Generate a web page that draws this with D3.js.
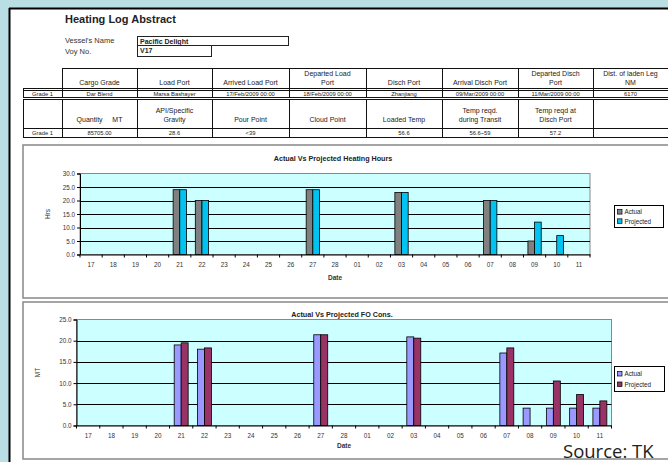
<!DOCTYPE html>
<html><head><meta charset="utf-8">
<script src="https://cdn.jsdelivr.net/npm/d3@7"></script>
<style>
body{margin:0;background:#b9dfe4;overflow:hidden;}
svg{display:block;font-family:Arial,"Liberation Sans",sans-serif;}
</style>
</head><body>
<svg id="c" width="668" height="462"></svg>
<script>
// Voyage dates (Feb 17 – Mar 11)
const dates = ["17","18","19","20","21","22","23","24","25","26","27","28","01","02","03","04","05","06","07","08","09","10","11"];
const seriesNames = ["Actual","Projected"];

// Heating hours per day
const heatActual    = [null,null,null,null,24,20,null,null,null,null,24,null,null,null,23,null,null,null,20,null,5,null,null];
const heatProjected = [null,null,null,null,24,20,null,null,null,null,24,null,null,null,23,null,null,null,20,null,12,7,null];
const hoursTicks = [0,5,10,15,20,25,30];

// Fuel oil consumption per day (MT)
const foActual    = [null,null,null,null,19.0,18.0,null,null,null,null,21.4,null,null,null,20.9,null,null,null,17.1,4.1,4.1,4.1,4.1];
const foProjected = [null,null,null,null,19.5,18.3,null,null,null,null,21.4,null,null,null,20.6,null,null,null,18.3,null,10.5,7.3,5.8];
const foTicks = [0,5,10,15,20,25];

// Voyage particulars table
const headerRow1 = ["", "Cargo Grade", "Load Port", "Arrived Load Port", "Departed Load|Port", "Disch Port", "Arrival Disch Port", "Departed Disch|Port", "Dist. of laden Leg|NM"];
const dataRow1   = ["Grade 1", "Dar Blend", "Marsa Bashayer", "17/Feb/2009 00:00", "18/Feb/2009 00:00", "Zhanjiang", "09/Mar/2009 00:00", "11/Mar/2009 00:00", "6170"];
const headerRow2 = ["", "Quantity     MT", "API/Specific|Gravity", "Pour Point", "Cloud Point", "Loaded Temp", "Temp reqd.|during Transit", "Temp reqd at|Disch Port", ""];
const dataRow2   = ["Grade 1", "85705.00", "28.6", "<39", "", "56.6", "56.6~59", "57.2", ""];

const svg = d3.select("#c");

// sheet
svg.append("rect").attr("x",9).attr("y",8).attr("width",700).attr("height",470).attr("fill","#fff");
svg.append("line").attr("x1",9).attr("x2",668).attr("y1",8.5).attr("y2",8.5).attr("stroke","#000").attr("stroke-width",2);
svg.append("line").attr("x1",9.5).attr("x2",9.5).attr("y1",8).attr("y2",462).attr("stroke","#000").attr("stroke-width",2);

svg.append("text").attr("x",65).attr("y",23).attr("font-size",11).attr("font-weight","bold").attr("fill","#222").text("Heating Log Abstract");
svg.append("text").attr("x",65).attr("y",43).attr("font-size",7.5).attr("fill","#333").text("Vessel's Name");
svg.append("text").attr("x",65).attr("y",54).attr("font-size",7.5).attr("fill","#333").text("Voy No.");
svg.append("rect").attr("x",137.5).attr("y",36.5).attr("width",151).attr("height",9).attr("fill","none").attr("stroke","#222");
svg.append("rect").attr("x",137.5).attr("y",45.5).attr("width",74).attr("height",11).attr("fill","none").attr("stroke","#222");
svg.append("text").attr("x",140).attr("y",44).attr("font-size",7).attr("font-weight","bold").attr("fill","#222").text("Pacific Delight");
svg.append("text").attr("x",140).attr("y",53).attr("font-size",7).attr("font-weight","bold").attr("fill","#222").text("V17");

// table
const colX = [23,62,137,212,289,366,442,518,593,700];
const tbl = svg.append("g").attr("stroke","#111").attr("fill","none");
function hline(y,x1,x2,w){ tbl.append("line").attr("x1",x1).attr("x2",x2).attr("y1",y).attr("y2",y).attr("stroke-width",w||1); }
function vline(x,y1,y2){ tbl.append("line").attr("x1",x+0.5).attr("x2",x+0.5).attr("y1",y1).attr("y2",y2); }
hline(68.5,62,700); hline(88.5,23,700); hline(90.5,23,700);
hline(97.5,23,700); hline(99.5,23,700);
hline(128.5,23,700); hline(137.5,23,700,1.2);
colX.slice(1,9).forEach(x=>vline(x,68,98));
vline(23,88,98);
colX.slice(0,9).forEach(x=>vline(x,99,138));

function cellText(row, yTop, yBot, size, weight){
  row.forEach((t,i)=>{
    if(!t) return;
    const cx = (colX[i]+Math.min(colX[i+1],668))/2;
    const lines = t.split("|");
    lines.forEach((l,k)=>{
      svg.append("text").attr("x",cx).attr("y", yBot - (lines.length-1-k)*(size+2.5))
        .attr("text-anchor","middle").attr("font-size",size).attr("font-weight",weight||"normal")
        .attr("fill","#222").attr("xml:space","preserve").text(l);
    });
  });
}
cellText(headerRow1, 68, 85, 7);
cellText(dataRow1, 90, 95.5, 5.8);
cellText(headerRow2, 100, 122, 7);
cellText(dataRow2, 128, 135.3, 5.8);

// chart panels
svg.append("rect").attr("x",23).attr("y",145).attr("width",700).attr("height",153).attr("fill","#fff").attr("stroke","#888").attr("stroke-width",1.5);
svg.append("rect").attr("x",23).attr("y",302).attr("width",700).attr("height",157).attr("fill","#fff").attr("stroke","#888").attr("stroke-width",1.5);

function drawChart(o){
  const g = svg.append("g");
  const x = d3.scaleBand().domain(dates).range([o.x0,o.x1]).padding(0);
  const xs = d3.scaleBand().domain(seriesNames).range([x.bandwidth()*0.2, x.bandwidth()*0.8]);
  const y = d3.scaleLinear().domain([0,o.ticks[o.ticks.length-1]]).range([o.y1,o.y0]);

  g.append("rect").attr("x",o.x0).attr("y",o.y0).attr("width",o.x1-o.x0).attr("height",o.y1-o.y0)
    .attr("fill","#ccffff").attr("stroke","#888").attr("stroke-width",1);
  g.selectAll(".grid").data(o.ticks.filter(t=>t>0 && t<o.ticks[o.ticks.length-1])).join("line")
    .attr("x1",o.x0).attr("x2",o.x1).attr("y1",d=>Math.round(y(d))+0.5).attr("y2",d=>Math.round(y(d))+0.5)
    .attr("stroke","#000").attr("stroke-width",1);

  const series = [o.actual, o.projected];
  series.forEach((vals,si)=>{
    g.selectAll(".b"+si).data(dates.map((d,i)=>({d,v:vals[i]})).filter(e=>e.v!=null)).join("rect")
      .attr("x",e=>x(e.d)+xs(seriesNames[si])).attr("width",xs.bandwidth())
      .attr("y",e=>y(e.v)).attr("height",e=>y(0)-y(e.v))
      .attr("fill",o.colors[si]).attr("stroke","#000").attr("stroke-width",0.8);
  });

  // y axis
  const ya = g.append("g").attr("transform",`translate(${o.x0},0)`)
    .call(d3.axisLeft(y).tickValues(o.ticks).tickFormat(d3.format(".1f")).tickSize(3).tickPadding(2));
  ya.select(".domain").attr("stroke","#000");
  ya.selectAll("text").attr("font-size",6.3).attr("fill","#333").attr("font-family","Arial,'Liberation Sans',sans-serif");
  // x axis
  const xa = g.append("g").attr("transform",`translate(0,${o.y1})`)
    .call(d3.axisBottom(x).tickSize(0).tickPadding(8));
  xa.select(".domain").attr("stroke","#000");
  xa.selectAll("text").attr("font-size",6.3).attr("fill","#333").attr("font-family","Arial,'Liberation Sans',sans-serif");
  g.selectAll(".xt").data(d3.range(dates.length+1)).join("line")
    .attr("x1",i=>o.x0+i*x.bandwidth()).attr("x2",i=>o.x0+i*x.bandwidth())
    .attr("y1",o.y1).attr("y2",o.y1+3).attr("stroke","#000");

  g.append("text").attr("x",(o.x0+o.x1)/2-2).attr("y",o.titleY).attr("text-anchor","middle")
    .attr("font-size",7.2).attr("font-weight","bold").attr("fill","#222").text(o.title);
  g.append("text").attr("x",(o.x0+o.x1)/2).attr("y",o.dateY).attr("text-anchor","middle")
    .attr("font-size",6.5).attr("font-weight","bold").attr("fill","#333").text("Date");
  g.append("text").attr("transform",`translate(${o.yLabelX},${(o.y0+o.y1)/2}) rotate(-90)`).attr("text-anchor","middle")
    .attr("font-size",6.5).attr("fill","#333").text(o.yLabel);

  // legend
  const lg = g.append("g");
  lg.append("rect").attr("x",o.lx).attr("y",o.ly).attr("width",o.lw).attr("height",o.lh)
    .attr("fill","#fff").attr("stroke","#000").attr("stroke-width",1);
  seriesNames.forEach((n,i)=>{
    const yy = o.ly + o.lh*(i===0?0.3:0.72);
    lg.append("rect").attr("x",o.lx+3).attr("y",yy-2.5).attr("width",4.5).attr("height",4.5)
      .attr("fill",o.colors[i]).attr("stroke","#000").attr("stroke-width",0.7);
    lg.append("text").attr("x",o.lx+10).attr("y",yy+2.2).attr("font-size",6.3).attr("fill","#222").text(n);
  });
}

drawChart({x0:80,x1:590,y0:173.5,y1:254.5,ticks:hoursTicks,actual:heatActual,projected:heatProjected,
  colors:["#808080","#00c3f2"],title:"Actual Vs Projected Heating Hours",titleY:161,dateY:280,
  yLabel:"Hrs",yLabelX:50,lx:614.5,ly:205.5,lw:49,lh:22});
drawChart({x0:76.5,x1:611.5,y0:319.5,y1:425.5,ticks:foTicks,actual:foActual,projected:foProjected,
  colors:["#9999ff","#993366"],title:"Actual Vs Projected FO Cons.",titleY:317,dateY:448,
  yLabel:"MT",yLabelX:40,lx:614.5,ly:366.5,lw:50,lh:25});

svg.append("text").attr("x",563).attr("y",458).attr("font-family","'Open Sans',sans-serif")
  .attr("font-size",18.5).attr("fill","#222").text("Source: TK");
</script>
</body></html>
